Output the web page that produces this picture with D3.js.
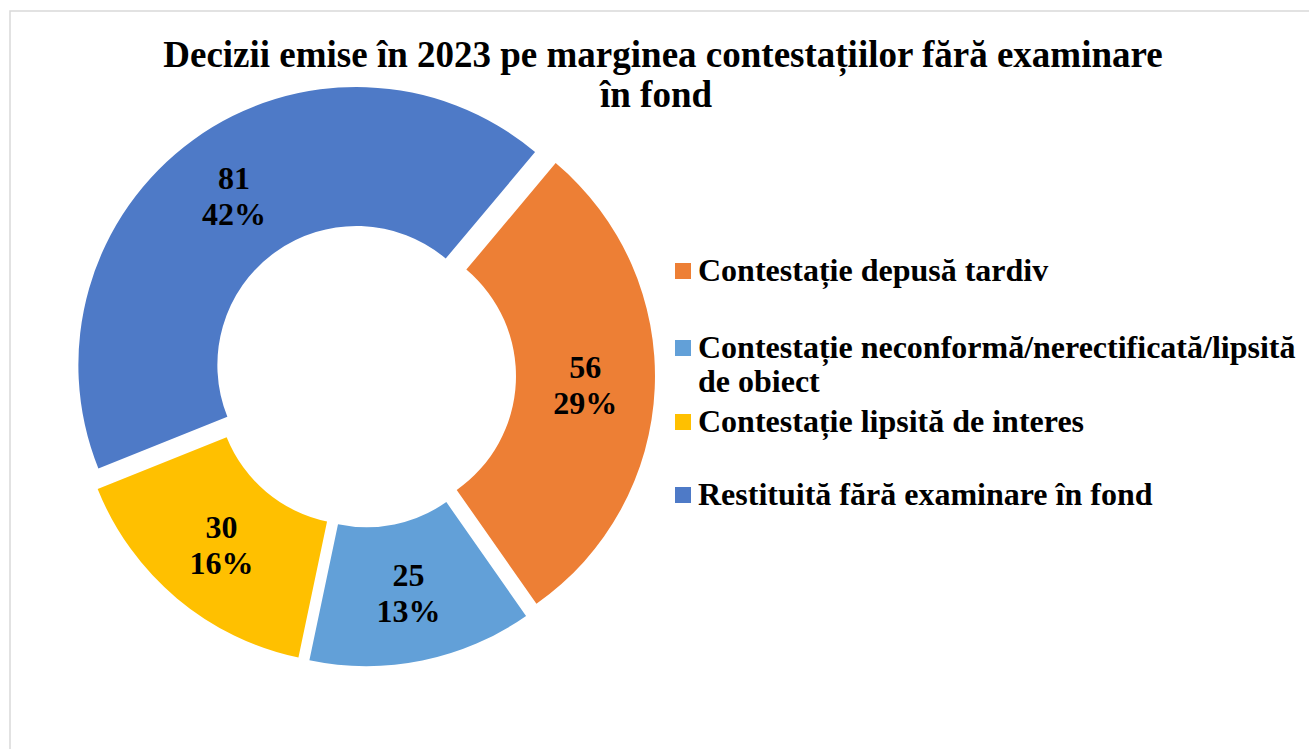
<!DOCTYPE html>
<html>
<head>
<meta charset="utf-8">
<script src="https://cdn.jsdelivr.net/npm/d3@7"></script>
<style>
  body { margin: 0; background: #fff; }
  svg { display: block; }
</style>
</head>
<body>
<div class="chart"></div>
<script>
// data
const categories = [
  "Contestație depusă tardiv",
  "Contestație neconformă/nerectificată/lipsită de obiect",
  "Contestație lipsită de interes",
  "Restituită fără examinare în fond"
];
const legendLines = [
  ["Contestație depusă tardiv"],
  ["Contestație neconformă/nerectificată/lipsită", "de obiect"],
  ["Contestație lipsită de interes"],
  ["Restituită fără examinare în fond"]
];
const values = [56, 25, 30, 81];
const colors = ["#ED7F35", "#62A0D8", "#FFC000", "#4E7AC7"];
const titleLines = ["Decizii emise în 2023 pe marginea contestațiilor fără examinare", "în fond"];

const width = 1309, height = 749;
const font = "'Liberation Serif', 'Times New Roman', serif";

let svg = d3.select(".chart")
  .append("svg")
  .attr("width", width)
  .attr("height", height);

// chart area border
svg.append("rect")
  .attr("x", 10).attr("y", 11)
  .attr("width", width + 20).attr("height", height + 20)
  .attr("fill", "#fff")
  .attr("stroke", "#d9d9d9")
  .attr("stroke-width", 1.5);

// title
let titleX = [663, 656];
svg.append("text")
  .attr("text-anchor", "middle")
  .attr("font-family", font)
  .attr("font-weight", "bold")
  .attr("font-size", 37)
  .attr("fill", "#000")
  .selectAll("tspan")
  .data(titleLines)
  .enter().append("tspan")
  .attr("x", (d, i) => titleX[i])
  .attr("y", (d, i) => 67 + i * 40)
  .text(d => d);

// donut, every point exploded a bit from the centre
let cx = 364, cy = 375.5;
let outer = 278, inner = 139, explode = 13;
let total = d3.sum(values);
let startAngle = 40 * Math.PI / 180;

let pie = d3.pie()
  .sort(null)
  .startAngle(startAngle)
  .endAngle(startAngle + 2 * Math.PI);

let arcs = pie(values);

let arc = d3.arc()
  .innerRadius(inner)
  .outerRadius(outer);

function shift(d) {
  let mid = (d.startAngle + d.endAngle) / 2;
  return [explode * Math.sin(mid), -explode * Math.cos(mid)];
}

let g = svg.append("g")
  .attr("transform", "translate(" + cx + "," + cy + ")");

let slice = g.selectAll(".slice")
  .data(arcs)
  .enter().append("g")
  .attr("class", "slice")
  .attr("transform", d => "translate(" + shift(d) + ")");

slice.append("path")
  .attr("d", arc)
  .attr("fill", (d, i) => colors[i]);

// data labels: value and percentage
slice.append("text")
  .attr("text-anchor", "middle")
  .attr("font-family", font)
  .attr("font-weight", "bold")
  .attr("font-size", 32)
  .attr("fill", "#000")
  .attr("transform", d => "translate(" + arc.centroid(d) + ")")
  .each(function(d) {
    let t = d3.select(this);
    t.append("tspan").attr("x", 0).attr("y", -7).text(d.data);
    t.append("tspan").attr("x", 0).attr("y", 29)
      .text(Math.round(d.data / total * 100) + "%");
  });

// legend
let legendY = [271, 348, 422, 495];
let legend = svg.append("g")
  .selectAll(".leg")
  .data(categories)
  .enter().append("g")
  .attr("class", "leg")
  .attr("transform", (d, i) => "translate(675," + legendY[i] + ")");

legend.append("rect")
  .attr("x", 0).attr("y", -8)
  .attr("width", 16).attr("height", 16)
  .attr("fill", (d, i) => colors[i]);

legend.append("text")
  .attr("font-family", font)
  .attr("font-weight", "bold")
  .attr("font-size", 32)
  .attr("fill", "#000")
  .each(function(d, i) {
    d3.select(this).selectAll("tspan")
      .data(legendLines[i])
      .enter().append("tspan")
      .attr("x", 23)
      .attr("y", (t, j) => 10 + j * 34)
      .text(t => t);
  });
</script>
</body>
</html>
